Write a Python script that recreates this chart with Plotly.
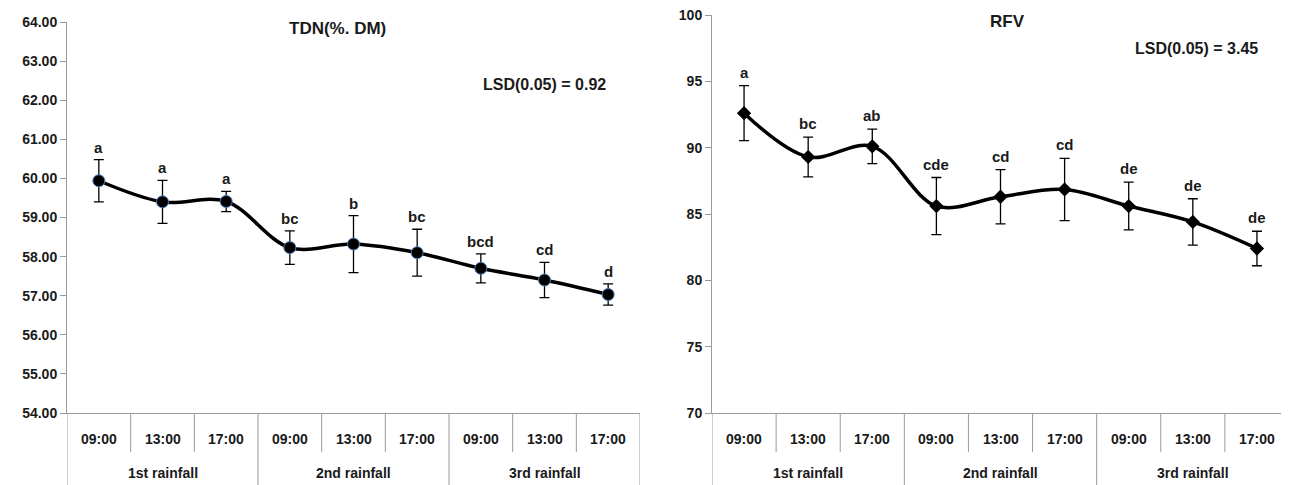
import plotly.graph_objects as go

times = ["09:00", "13:00", "17:00", "09:00", "13:00", "17:00", "09:00", "13:00", "17:00"]
groups = ["1st rainfall", "2nd rainfall", "3rd rainfall"]

tdn_mean = [59.94, 59.40, 59.41, 58.23, 58.32, 58.10, 57.70, 57.40, 57.03]
tdn_err = [0.54, 0.55, 0.26, 0.43, 0.73, 0.60, 0.37, 0.45, 0.27]
tdn_letters = ["a", "a", "a", "bc", "b", "bc", "bcd", "cd", "d"]

rfv_mean = [92.6, 89.3, 90.1, 85.6, 86.3, 86.85, 85.6, 84.4, 82.4]
rfv_err = [2.07, 1.5, 1.3, 2.15, 2.05, 2.35, 1.8, 1.75, 1.3]
rfv_letters = ["a", "bc", "ab", "cde", "cd", "cd", "de", "de", "de"]

FONT = "Liberation Sans Narrow, Arial Narrow, Liberation Sans, Arial, sans-serif"
TXT = "#1a1a1a"
GRAY = "#9a9a9a"

# page has an 8px body margin; size the figure to fit the window
OFF = 8
W, H = 1289 - OFF, 485 - OFF

def xp(px):
    return (px - OFF) / W

def yp(py):
    return 1 - (py - OFF) / H

def f(size):
    return dict(family=FONT, size=size, color=TXT, weight="bold")

xs = list(range(len(times)))

fig = go.Figure()
fig.add_trace(go.Scatter(
    x=xs, y=tdn_mean, mode="lines+markers", xaxis="x", yaxis="y",
    line=dict(color="black", width=3.5, shape="spline", smoothing=1.0),
    marker=dict(symbol="circle", size=12, color="black", line=dict(color="#4f7fc0", width=1)),
    error_y=dict(type="data", array=tdn_err, visible=True, color="black", thickness=1.3, width=5),
    showlegend=False))
fig.add_trace(go.Scatter(
    x=xs, y=rfv_mean, mode="lines+markers", xaxis="x2", yaxis="y2",
    line=dict(color="black", width=3.5, shape="spline", smoothing=1.0),
    marker=dict(symbol="diamond", size=11, color="black"),
    error_y=dict(type="data", array=rfv_err, visible=True, color="black", thickness=1.3, width=5),
    showlegend=False))

ann = []
for i in xs:
    ann.append(dict(x=i, y=tdn_mean[i] + tdn_err[i], xref="x", yref="y", text=tdn_letters[i],
                    showarrow=False, yanchor="bottom", yshift=2, font=f(15)))
    ann.append(dict(x=i, y=rfv_mean[i] + rfv_err[i], xref="x2", yref="y2", text=rfv_letters[i],
                    showarrow=False, yanchor="bottom", yshift=3, font=f(15)))
    for xr in ("x", "x2"):
        ann.append(dict(x=i, y=yp(439), xref=xr, yref="paper", text=times[i], showarrow=False,
                        xanchor="center", yanchor="middle", font=f(14)))
for g, name in enumerate(groups):
    for xr in ("x", "x2"):
        ann.append(dict(x=g * 3 + 1, y=yp(473), xref=xr, yref="paper", text=name, showarrow=False,
                        xanchor="center", yanchor="middle", font=f(14)))

ann += [
    dict(x=xp(337), y=yp(29), xref="paper", yref="paper", text="TDN(%. DM)", showarrow=False,
         xanchor="center", yanchor="middle", font=f(17)),
    dict(x=xp(1007), y=yp(21), xref="paper", yref="paper", text="RFV", showarrow=False,
         xanchor="center", yanchor="middle", font=f(17)),
    dict(x=7.0, y=62.4, xref="x", yref="y", text="LSD(0.05) = 0.92", showarrow=False,
         font=f(16), xanchor="center"),
    dict(x=7.05, y=97.5, xref="x2", yref="y2", text="LSD(0.05) = 3.45", showarrow=False,
         font=f(16), xanchor="center"),
]

shapes = []
for xr in ("x", "x2"):
    for k in range(len(times) + 1):
        xv = k - 0.5
        outer = (k % 3 == 0)
        shapes.append(dict(type="line", xref=xr, yref="paper", x0=xv, x1=xv,
                           y0=0.0 if outer else yp(452), y1=yp(413),
                           line=dict(color=GRAY, width=1)))

axcommon = dict(showgrid=False, zeroline=False, showline=True, linecolor=GRAY, linewidth=1,
                automargin=False)
fig.update_layout(
    width=W, height=H, margin=dict(l=0, r=0, t=0, b=0, autoexpand=False),
    paper_bgcolor="white", plot_bgcolor="white",
    xaxis=dict(domain=[xp(67), xp(640)], range=[-0.5, 8.5], showticklabels=False, ticks="", **axcommon),
    yaxis=dict(domain=[yp(413), yp(22)], range=[54, 64], dtick=1, tickformat=".2f",
               ticks="outside", ticklen=6, tickcolor=GRAY, tickfont=f(14),
               ticklabeloverflow="allow", **axcommon),
    xaxis2=dict(domain=[xp(712), 1.0], range=[-0.5, 8.5], showticklabels=False, ticks="",
                anchor="y2", **axcommon),
    yaxis2=dict(domain=[yp(413), yp(15)], range=[70, 100], dtick=5, anchor="x2",
                ticks="outside", ticklen=6, tickcolor=GRAY, tickfont=f(14),
                ticklabeloverflow="allow", **axcommon),
    annotations=ann, shapes=shapes,
)
fig.write_html("out.html")
